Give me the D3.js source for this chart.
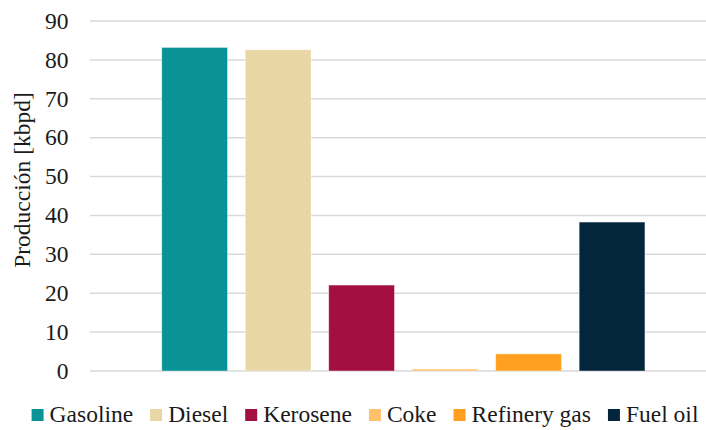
<!DOCTYPE html>
<html>
<head>
<meta charset="utf-8">
<script src="https://cdn.jsdelivr.net/npm/d3@7"></script>
<style>
  html, body { margin: 0; padding: 0; background: #fff; }
  svg { display: block; }
</style>
</head>
<body>
<svg id="chart" width="706" height="430"></svg>
<script>
// Refinery output by product, kbpd
const products = ["Gasoline", "Diesel", "Kerosene", "Coke", "Refinery gas", "Fuel oil"];
const production = [83.2, 82.6, 22.1, 0.5, 4.4, 38.3];
const colors = ["#0a9396", "#e9d6a5", "#a30f40", "#fdc06b", "#ffa020", "#03263c"];
const yTicks = [0, 10, 20, 30, 40, 50, 60, 70, 80, 90];
const yTitle = "Producción [kbpd]";

const fontSize = 23.5;
const textColor = "#1a1a1a";
const serif = '"Liberation Serif"';

const svg = d3.select("#chart");

const y = d3.scaleLinear().domain([0, 90]).range([371, 21]);
const x = d3.scaleBand()
  .domain(products)
  .range([152.9, 653.8])
  .paddingInner(0.212)
  .paddingOuter(0.106);

const plotLeft = 90, plotRight = 706;

// gridlines
svg.append("g")
  .selectAll("line")
  .data(yTicks)
  .join("line")
  .attr("x1", plotLeft).attr("x2", plotRight)
  .attr("y1", d => y(d)).attr("y2", d => y(d))
  .attr("stroke", "#d9d9d9")
  .attr("stroke-width", 1.5);

// y tick labels
svg.append("g")
  .selectAll("text")
  .data(yTicks)
  .join("text")
  .attr("x", 68.5)
  .attr("y", d => y(d))
  .attr("text-anchor", "end")
  .attr("dy", "0.33em")
  .attr("font-size", fontSize)
  .attr("fill", textColor)
  .style("font-family", serif)
  .text(d => d);

// bars
svg.append("g")
  .selectAll("rect")
  .data(products)
  .join("rect")
  .attr("x", d => x(d))
  .attr("width", x.bandwidth())
  .attr("y", (d, i) => y(production[i]))
  .attr("height", (d, i) => y(0) - y(production[i]))
  .attr("fill", (d, i) => colors[i])
  .attr("stroke", "#ffffff")
  .attr("stroke-opacity", 0.5)
  .attr("stroke-width", 0.8);

// y axis title
svg.append("text")
  .attr("transform", "translate(30,180) rotate(-90)")
  .attr("text-anchor", "middle")
  .attr("font-size", fontSize)
  .attr("fill", textColor)
  .style("font-family", serif)
  .text(yTitle);

// legend
const legend = svg.append("g");
const items = legend.selectAll("g")
  .data(products)
  .join("g");
items.append("rect")
  .attr("width", 12).attr("height", 12)
  .attr("y", 409)
  .attr("fill", (d, i) => colors[i]);
items.append("text")
  .attr("y", 422)
  .attr("font-size", fontSize)
  .attr("fill", textColor)
  .style("font-family", serif)
  .text(d => d);

let cx = 0;
const boxW = 12, gapBox = 6, gapItem = 17;
items.each(function () {
  const g = d3.select(this);
  const t = g.select("text");
  const tw = t.node().getComputedTextLength();
  g.select("rect").attr("x", cx);
  t.attr("x", cx + boxW + gapBox);
  cx += boxW + gapBox + tw + gapItem;
});
const legendW = cx - gapItem;
legend.attr("transform", `translate(${365 - legendW / 2},0)`);
</script>
</body>
</html>
